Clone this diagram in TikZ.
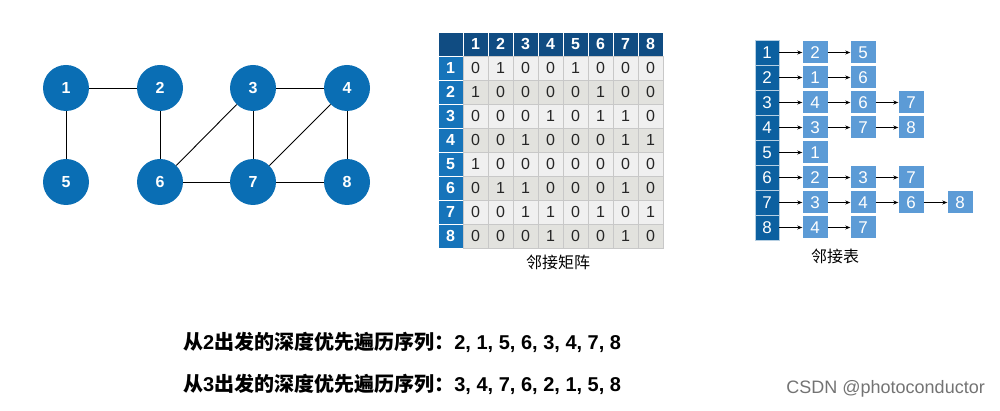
\documentclass[tikz,border=0pt]{standalone}
\usepackage{fontspec}
\setmainfont{Liberation Sans}
\newfontfamily\cjk{Noto Sans CJK SC}
\usetikzlibrary{arrows.meta}

\definecolor{vblue}{RGB}{10,110,180}
\definecolor{hdnavy}{RGB}{16,76,130}
\definecolor{rowblue}{RGB}{22,116,186}
\definecolor{listhead}{RGB}{12,96,160}
\definecolor{listcell}{RGB}{92,155,214}
\definecolor{cellA}{RGB}{240,240,240}
\definecolor{cellB}{RGB}{226,226,222}
\definecolor{gridgray}{RGB}{200,200,200}

\begin{document}
\begin{tikzpicture}[x=1pt, y=-1pt,
    vertex/.style={circle, fill=vblue, minimum size=46pt, inner sep=0pt,
      text=white, font=\fontsize{16}{16}\selectfont\bfseries},
    edge/.style={line width=0.9pt, black},
    headcell/.style={fill=hdnavy, draw=white, line width=0.5pt, minimum width=25pt,
      minimum height=24pt, inner sep=0pt, text=white, font=\fontsize{16}{16}\selectfont\bfseries},
    rowcell/.style={headcell, fill=rowblue},
    listhd/.style={fill=listhead, draw=white!70!listhead, line width=0.4pt, minimum width=24pt,
      minimum height=25pt, inner sep=0pt, text=white, font=\fontsize{17}{17}\selectfont},
    listnd/.style={fill=listcell, minimum width=25pt, minimum height=22pt, inner sep=0pt,
      text=white, font=\fontsize{17}{17}\selectfont},
    link/.style={-{Stealth[length=5pt,width=4pt]}, line width=0.8pt},
    caption/.style={font=\cjk\fontsize{16}{16}\selectfont},
    seqline/.style={anchor=west, inner sep=0pt, font=\fontsize{20}{20}\selectfont\bfseries}]

  \useasboundingbox (0,0) rectangle (1000,411);

  % Graph
  \node[vertex] (v1) at (66,88) {1};
  \node[vertex] (v2) at (160,88) {2};
  \node[vertex] (v3) at (253,88) {3};
  \node[vertex] (v4) at (347,88) {4};
  \node[vertex] (v5) at (66,182) {5};
  \node[vertex] (v6) at (160,182) {6};
  \node[vertex] (v7) at (253,182) {7};
  \node[vertex] (v8) at (347,182) {8};

  \foreach \a/\b in {1/2, 1/5, 2/6, 3/4, 3/6, 3/7, 4/7, 4/8, 6/7, 7/8}
    \draw[edge] (v\a) -- (v\b);

  % Adjacency matrix
  \node[headcell] (corner) at (450.5,44) {};
  \foreach \j in {1,...,8}
    \node[headcell] (col\j) at (475.5+25*\j-25,44) {\j};

  \foreach \i/\row in {1/{0,1,0,0,1,0,0,0}, 2/{1,0,0,0,0,1,0,0},
                       3/{0,0,0,1,0,1,1,0}, 4/{0,0,1,0,0,0,1,1},
                       5/{1,0,0,0,0,0,0,0}, 6/{0,1,1,0,0,0,1,0},
                       7/{0,0,1,1,0,1,0,1}, 8/{0,0,0,1,0,0,1,0}} {
    \pgfmathsetmacro{\shade}{isodd(\i) ? "cellA" : "cellB"}
    \node[rowcell] (row\i) at (450.5,68+24*\i-24) {\i};
    \foreach \v [count=\j] in \row
      \node[fill=\shade, draw=gridgray, line width=0.4pt, minimum width=25pt,
        minimum height=24pt, inner sep=0pt, text=black!85,
        font=\fontsize{16}{16}\selectfont] (m\i-\j) at (475.5+25*\j-25,68+24*\i-24) {\v};
  }
  \node[caption] (matcap) at (558,262) {邻接矩阵};

  % Adjacency list
  \foreach \i/\lst in {1/{2,5}, 2/{1,6}, 3/{4,6,7}, 4/{3,7,8},
                       5/{1}, 6/{2,3,7}, 7/{3,4,6,8}, 8/{4,7}} {
    \node[listhd] (n\i-0) at (767,52.5+25*\i-25) {\i};
    \foreach \v [count=\k, remember=\k as \p (initially 0)] in \lst {
      \pgfmathsetmacro{\xx}{{0,815,863,911,960}[\k]}
      \node[listnd] (n\i-\k) at (\xx,52.5+25*\i-25) {\v};
      \draw[link] (n\i-\p.east) -- (n\i-\k.west);
    }
  }
  \node[caption] (listcap) at (835,256) {邻接表};

  % DFS sequences
  \node[seqline] (seq2) at (183,342)
    {{\cjk 从}2{\cjk 出发的深度优先遍历序列：}2, 1, 5, 6, 3, 4, 7, 8};
  \node[seqline] (seq3) at (183,384)
    {{\cjk 从}3{\cjk 出发的深度优先遍历序列：}3, 4, 7, 6, 2, 1, 5, 8};

  \node[anchor=east, inner sep=0pt, text=black!55, font=\fontsize{18}{18}\selectfont] (mark) at (985,389)
    {CSDN @photoconductor};
\end{tikzpicture}
\end{document}
